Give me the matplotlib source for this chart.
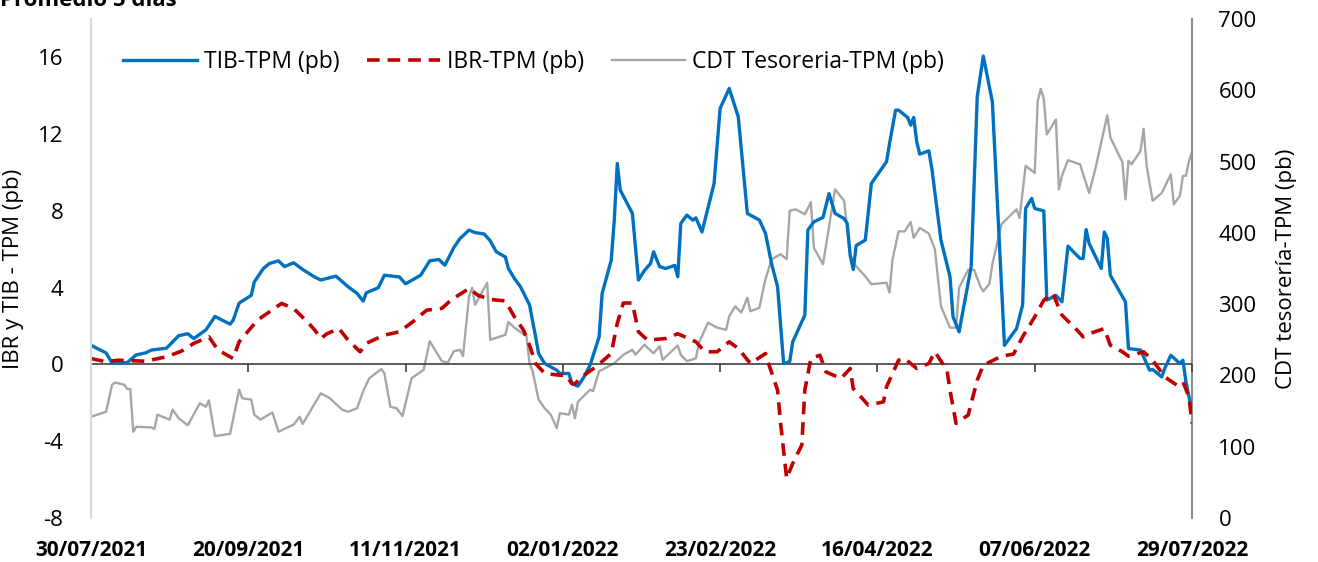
import matplotlib
matplotlib.use("Agg")
import matplotlib.pyplot as plt
import pandas as pd

plt.rcParams['font.family'] = ['Open Sans', 'DejaVu Sans']
plt.rcParams['axes.unicode_minus'] = False

# Fecha de inicio y etiquetas del eje X
inicio = pd.Timestamp('2021-07-30')
etiquetas_x = ['30/07/2021', '20/09/2021', '11/11/2021', '02/01/2022',
               '23/02/2022', '16/04/2022', '07/06/2022', '29/07/2022']

# TIB-TPM (pb): dias desde el inicio y valor
tib_dias = [0, 5, 7, 12, 15, 18, 20, 25, 29, 32, 34, 38, 41, 46, 47, 49, 53, 54, 57, 59,
            62, 64, 67, 70, 74, 76, 81, 85, 88, 90, 91, 95, 97, 102, 104, 109, 112, 115, 117, 120,
            122, 125, 127, 130, 132, 134, 137, 138, 140, 142, 145, 147, 148, 150, 154, 155, 158, 159, 161, 163,
            165, 168, 169, 172, 173, 174, 175, 179, 181, 183, 185, 186, 188, 190, 193, 194, 195, 197, 199, 200,
            202, 206, 208, 211, 214, 217, 221, 223, 225, 227, 229, 231, 232, 236, 237, 239, 242, 244, 246, 249,
            250, 251, 252, 253, 256, 258, 263, 264, 266, 267, 270, 271, 272, 273, 274, 277, 278, 281, 284, 285,
            287, 291, 293, 295, 298, 302, 306, 308, 309, 311, 312, 315, 316, 319, 321, 323, 327, 328, 329, 330,
            334, 335, 336, 337, 342, 343, 347, 350, 351, 354, 355, 357, 360, 361, 362, 364]
tib_vals = [1.0, 0.6, 0.07, 0.1, 0.5, 0.6, 0.75, 0.85, 1.5, 1.6, 1.35, 1.8, 2.5, 2.1, 2.3, 3.2, 3.6, 4.3, 5.0, 5.26,
            5.4, 5.1, 5.3, 4.95, 4.55, 4.4, 4.6, 4.05, 3.7, 3.3, 3.73, 4.0, 4.65, 4.56, 4.2, 4.65, 5.4, 5.47, 5.17, 6.1,
            6.56, 7.0, 6.87, 6.8, 6.44, 5.87, 5.6, 5.0, 4.48, 4.05, 3.1, 1.44, 0.57, 0.05, -0.3, -0.47, -0.47, -1.0, -1.13, -0.65,
            -0.04, 1.44, 3.7, 5.43, 7.5, 10.47, 9.08, 7.87, 4.4, 4.9, 5.26, 5.87, 5.1, 5.0, 5.16, 4.57, 7.35, 7.78, 7.52, 7.64,
            6.9, 9.43, 13.34, 14.38, 12.9, 7.87, 7.52, 6.83, 5.26, 4.04, 0.05, 0.14, 1.18, 2.57, 7.0, 7.43, 7.66, 8.9, 7.87, 7.6,
            7.35, 5.7, 4.95, 6.2, 6.48, 9.43, 10.56, 11.5, 13.25, 13.25, 12.87, 12.47, 12.87, 11.6, 10.96, 11.13, 10.2, 6.48, 4.57, 2.48,
            1.7, 5.1, 13.95, 16.07, 13.68, 1.0, 1.87, 3.1, 8.13, 8.65, 8.13, 8.0, 3.35, 3.6, 3.26, 6.16, 5.52, 5.52, 7.03, 6.3,
            5.0, 6.9, 6.56, 4.65, 3.26, 0.83, 0.75, -0.3, -0.26, -0.65, -0.2, 0.48, 0.05, 0.22, -0.9, -2.47]

# IBR-TPM (pb)
ibr_dias = [0, 5, 9, 18, 25, 30, 34, 39, 42, 47, 49, 55, 63, 67, 72, 74, 76, 78, 82, 85,
            89, 91, 97, 102, 107, 111, 116, 119, 125, 128, 132, 137, 140, 143, 145, 147, 150, 155, 157, 159,
            160, 163, 167, 172, 174, 176, 179, 181, 184, 190, 194, 200, 203, 207, 211, 214, 218, 223, 224, 227,
            228, 230, 232, 235, 236, 238, 241, 243, 248, 251, 252, 257, 262, 263, 267, 269, 273, 277, 279, 283,
            284, 286, 290, 293, 295, 301, 305, 308, 312, 315, 318, 321, 326, 328, 330, 335, 337, 341, 343, 348,
            351, 355, 359, 361, 363, 364]
ibr_vals = [0.31, 0.14, 0.22, 0.17, 0.4, 0.7, 1.1, 1.44, 0.75, 0.31, 1.18, 2.3, 3.18, 2.92, 2.14, 1.79, 1.35, 1.6, 1.87, 1.27,
            0.66, 1.1, 1.53, 1.7, 2.3, 2.83, 2.92, 3.35, 3.96, 3.6, 3.39, 3.31, 2.48, 1.79, 1.0, 0.05, -0.47, -0.56, -0.56, -1.0,
            -1.0, -0.56, -0.12, 0.57, 2.14, 3.2, 3.2, 1.7, 1.27, 1.35, 1.6, 1.18, 0.66, 0.66, 1.18, 0.83, 0.05, 0.57, 0.05, -1.34,
            -3.07, -5.94, -5.16, -4.2, -1.34, 0.31, 0.48, -0.39, -0.73, -0.21, -1.25, -2.12, -1.95, -1.17, 0.22, 0.31, -0.21, 0.05, 0.66, -0.3,
            -1.34, -3.07, -2.64, -0.82, -0.04, 0.43, 0.54, 1.44, 2.48, 3.35, 3.7, 2.57, 1.79, 1.44, 1.6, 1.87, 1.0, 0.66, 0.43, 0.66,
            0.22, -0.65, -1.08, -0.9, -1.69, -3.07]

# CDT Tesoreria-TPM (pb), eje derecho
cdt_dias = [0, 5, 7, 8, 11, 12, 13, 14, 15, 20, 21, 22, 26, 27, 29, 32, 36, 38, 39, 41,
            46, 49, 50, 53, 54, 56, 60, 62, 67, 69, 70, 76, 79, 83, 85, 88, 90, 92, 96, 97,
            99, 101, 103, 106, 110, 112, 116, 118, 120, 122, 123, 125, 126, 127, 131, 132, 137, 138, 140, 144,
            145, 146, 148, 150, 152, 154, 155, 158, 159, 160, 161, 165, 166, 168, 169, 173, 176, 179, 180, 183,
            186, 188, 189, 194, 195, 197, 200, 201, 204, 207, 210, 211, 213, 215, 217, 218, 221, 222, 223, 225,
            228, 230, 231, 233, 236, 238, 239, 242, 246, 249, 251, 253, 256, 258, 263, 264, 265, 267, 269, 271,
            272, 274, 277, 279, 281, 284, 286, 287, 290, 292, 294, 295, 297, 298, 301, 306, 307, 309, 312, 313,
            314, 315, 316, 319, 320, 321, 323, 327, 330, 332, 336, 337, 341, 342, 343, 344, 347, 348, 349, 351,
            354, 357, 358, 360, 361, 362, 363, 364]
cdt_vals = [142, 149, 187, 190, 187, 181, 181, 121, 128, 127, 125, 145, 138, 152, 140, 130, 161, 156, 165, 115,
            118, 180, 168, 166, 145, 138, 148, 121, 131, 142, 132, 175, 168, 152, 149, 154, 178, 196, 209, 203,
            156, 154, 143, 196, 208, 248, 220, 218, 234, 236, 227, 311, 323, 299, 330, 250, 257, 275, 267, 255,
            217, 206, 166, 154, 145, 126, 147, 145, 159, 140, 163, 180, 178, 206, 208, 217, 229, 236, 229, 243,
            231, 241, 222, 242, 229, 220, 224, 246, 274, 267, 264, 283, 297, 288, 309, 290, 295, 316, 335, 363,
            370, 363, 431, 433, 426, 443, 379, 356, 461, 445, 367, 353, 339, 328, 330, 316, 363, 402, 402, 415,
            393, 407, 399, 377, 297, 267, 267, 323, 348, 348, 325, 318, 328, 356, 412, 433, 421, 494, 484, 585,
            602, 588, 538, 559, 461, 480, 502, 496, 456, 489, 565, 534, 499, 447, 501, 496, 515, 546, 494, 445,
            456, 482, 440, 452, 480, 480, 501, 513]

tib_fechas = inicio + pd.to_timedelta(tib_dias, unit='D')
ibr_fechas = inicio + pd.to_timedelta(ibr_dias, unit='D')
cdt_fechas = inicio + pd.to_timedelta(cdt_dias, unit='D')
ticks_x = inicio + pd.to_timedelta([52 * i for i in range(8)], unit='D')

fig = plt.figure(figsize=(13.18, 5.62), dpi=100)
ax = fig.add_axes([0.069, 0.0783, 0.8354, 0.8879])
ax2 = ax.twinx()

# eje derecho detras
ax.set_zorder(ax2.get_zorder() + 1)
ax.patch.set_visible(False)

l3, = ax2.plot(cdt_fechas, cdt_vals, color='#A6A6A6', lw=1.7, label='CDT Tesoreria-TPM (pb)')
l1, = ax.plot(tib_fechas, tib_vals, color='#0070C0', lw=2.4, label='TIB-TPM (pb)')
l2, = ax.plot(ibr_fechas, ibr_vals, color='#C00000', lw=2.6, ls=(0, (3.5, 2.2)), label='IBR-TPM (pb)')

ax.set_xlim(inicio, inicio + pd.Timedelta(days=364))
ax.set_ylim(-8, 18)
ax.set_yticks([-8, -4, 0, 4, 8, 12, 16])
ax2.set_ylim(0, 700)
ax2.set_yticks(range(0, 701, 100))

# linea del cero con marcas
ax.axhline(0, color='#404040', lw=1.2, zorder=0)
sec = ax.secondary_xaxis(0, transform=ax.transData)
sec.set_xticks(ticks_x)
sec.set_xticklabels([])
sec.tick_params(axis='x', direction='out', length=6, color='#404040', width=1.2)
sec.spines['bottom'].set_visible(False)

ax.set_xticks(ticks_x)
ax.set_xticklabels(etiquetas_x, fontweight='bold', fontsize=15)
ax.tick_params(axis='x', length=0, pad=16)
ax.tick_params(axis='y', length=0, pad=20, labelsize=16)
ax2.tick_params(axis='y', length=0, pad=19, labelsize=16)

for s in ['top', 'bottom', 'right']:
    ax.spines[s].set_visible(False)
ax.spines['left'].set_color('#D9D9D9')
ax.spines['left'].set_linewidth(1.5)
for s in ['top', 'bottom', 'left']:
    ax2.spines[s].set_visible(False)
ax2.spines['right'].set_color('#8C8C8C')
ax2.spines['right'].set_linewidth(1.5)

ax.set_ylabel('IBR y TIB - TPM (pb)', fontsize=16, labelpad=10)
ax2.set_ylabel('CDT tesorería-TPM (pb)', fontsize=16, rotation=90, labelpad=14)

ax.legend(handles=[l1, l2, l3], loc='center', bbox_to_anchor=(0.402, 0.914), ncol=3,
          frameon=False, fontsize=16.5, handlelength=3.2, handletextpad=0.3, columnspacing=1.2)

fig.text(0.0, 1 - 6 / 562, 'Promedio 5 días', fontsize=16, fontweight='bold', va='baseline', ha='left')

fig.savefig('out.png', dpi=100)
